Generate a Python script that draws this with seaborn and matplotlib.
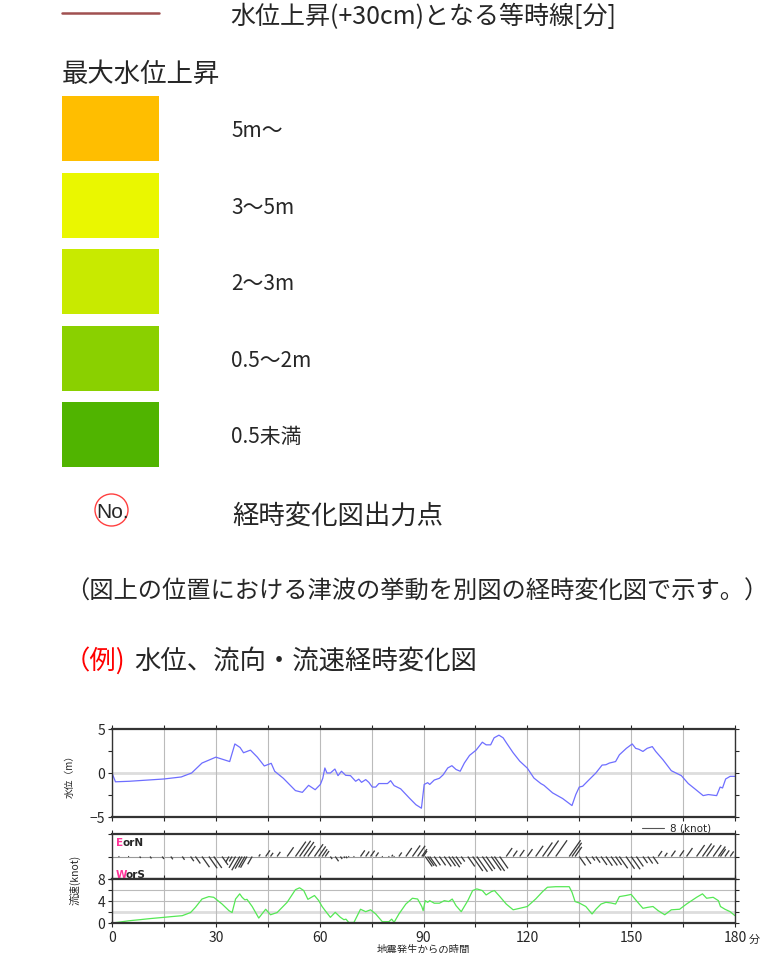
import numpy as np
import matplotlib
matplotlib.use("Agg")
import matplotlib.pyplot as plt
from matplotlib.patches import Rectangle, Ellipse
import seaborn as sns

# legend texts / colours
isochrone_label = "水位上昇(+30cm)となる等時線[分]"
max_title = "最大水位上昇"
max_labels = ["5m〜", "3〜5m", "2〜3m", "0.5〜2m", "0.5未満"]
max_colors = ["#FFBE00", "#EAF700", "#C8EA00", "#8AD000", "#50B400"]
point_label = "経時変化図出力点"
note_text = "（図上の位置における津波の挙動を別図の経時変化図で示す。）"
example_tag = "（例)"
example_title = "水位、流向・流速経時変化図"

# water level (m) vs minutes after the quake
level_t = [0, 1, 5, 15, 20, 23, 26, 30, 34, 35.5, 37, 38, 40, 42, 44, 46, 47, 49.5,
           53, 55, 56.8, 58.7, 60.2, 60.9, 61.5, 62.1, 63.1, 64.4, 65.3, 66.3, 67.5,
           68.9, 70.4, 71.3, 72.1, 73.3, 74.2, 75.2, 76.2, 77.1, 79.6, 80.5, 81.5,
           83.4, 85.8, 87.8, 89.4, 90.2, 91.2, 91.8, 93.1, 94.6, 95.7, 97, 98.2, 99.4,
           100.6, 101.8, 103.3, 105.2, 107, 108.1, 109.4, 110.4, 111.8, 113, 114,
           115.9, 117.8, 120, 121.9, 123.9, 124.8, 127.3, 130.2, 132.9, 134, 135, 136,
           137.4, 139.8, 141.6, 142.7, 143.7, 145.5, 146.6, 148.6, 150.3, 151.3, 152.2,
           153.4, 154.6, 156.1, 157.1, 159.2, 161.6, 164.5, 166.5, 168.4, 170.8, 172.3,
           174.7, 175.7, 176.4, 177.3, 178.6, 180]
level_m = [0, -1.0, -0.94, -0.68, -0.45, 0, 1.13, 1.8, 1.3, 3.3, 2.9, 2.3, 2.6, 1.8, 0.8,
           1.1, 0.2, -0.6, -2.0, -2.2, -1.4, -1.9, -1.3, -0.6, 0.57, 0, 0, 0.45, -0.3,
           0.2, -0.26, -0.3, -0.94, -0.7, -1.06, -0.75, -1.06, -1.6, -1.6, -1.2, -1.2,
           -0.87, -1.43, -1.8, -2.8, -3.6, -4.0, -1.3, -1.1, -1.3, -0.8, -0.6, -0.2,
           0.57, 0.83, 0.4, 0.2, 1.13, 2.0, 2.6, 3.5, 3.2, 3.2, 4.0, 4.3, 4.0, 3.4, 2.3,
           1.35, 0.55, -0.57, -1.2, -1.4, -2.26, -2.9, -3.7, -2.45, -1.6, -1.5, -0.94,
           0, 0.9, 0.94, 1.13, 1.3, 2.07, 2.8, 3.3, 2.8, 2.7, 2.45, 2.8, 3.0, 2.45, 1.5,
           0.26, -0.3, -1.2, -1.8, -2.57, -2.45, -2.57, -1.6, -1.7, -0.68, -0.38, -0.38]

# current speed (knot)
spd_t = [0, 2, 4.8, 8, 11, 14.5, 17, 20.3, 22.7, 24.1, 26, 28, 29.4, 31.8, 33.8, 34.7,
         35.7, 36.9, 37.6, 38.4, 39, 40.5, 42.4, 44.4, 45.8, 47.7, 50.6, 53, 54.2, 55.4,
         56.6, 58.5, 59.7, 60.7, 61.6, 63.1, 64.5, 66, 67, 67.6, 68.4, 69.9, 71.8, 73.3,
         74.7, 76.2, 78.1, 80, 80.8, 81.5, 82.9, 84.9, 86.8, 88.3, 89.5, 89.9, 90.5,
         91.2, 91.8, 93.1, 94.6, 96, 97.3, 98.3, 99.4, 100.9, 102.8, 104.2, 105.4, 107,
         108.1, 109.6, 110.5, 112, 113.9, 115.9, 117.8, 120, 122.4, 124.4, 125.8, 128.2,
         132.1, 132.9, 133.8, 135, 136.9, 138.7, 139.8, 141.3, 142.7, 144.2, 145.5,
         146.6, 148.5, 150, 151.5, 153.4, 154.8, 156.3, 157.8, 159.7, 161.6, 164, 166,
         168.9, 170.6, 171.8, 173.7, 175.2, 175.8, 177.1, 178.6, 180]
spd_kn = [0, 0.15, 0.4, 0.6, 0.8, 1.0, 1.15, 1.33, 1.9, 2.85, 4.36, 4.8, 4.67, 3.45,
          2.24, 1.9, 4.36, 5.3, 4.67, 4.2, 4.3, 3.0, 0.9, 2.5, 1.5, 1.9, 3.76, 6.06, 6.4,
          5.9, 4.3, 5.0, 4.1, 3.0, 2.24, 1.03, 1.94, 1.03, 0.6, 0.7, 0.1, 0.1, 2.5, 2.06,
          2.4, 1.64, 0.24, 0.24, 0.7, 0.12, 1.64, 3.45, 4.5, 4.36, 3.0, 2.24, 4.06, 3.76,
          4.06, 3.6, 3.6, 4.06, 3.9, 4.36, 3.15, 2.06, 4.06, 5.9, 6.2, 5.9, 5.1, 5.7, 5.9,
          4.85, 3.45, 2.4, 2.67, 3.0, 4.36, 5.7, 6.5, 6.6, 6.6, 5.6, 3.9, 3.64, 3.0, 1.64,
          2.5, 3.45, 3.76, 3.64, 3.45, 4.8, 5.0, 5.2, 4.06, 2.67, 2.85, 3.0, 2.24, 1.5,
          2.4, 2.5, 3.45, 4.67, 5.3, 4.5, 4.67, 4.06, 3.0, 2.5, 2.06, 1.33]

# flow direction phases (start minute, stick angle in degrees)
dir_start = [0, 33, 41, 62, 69, 90, 113, 135, 157]
dir_deg = [-55, -120, 55, -55, 55, -55, 55, -55, 55]

sns.set_style("ticks")
plt.rcParams["font.family"] = ["Noto Sans CJK JP", "DejaVu Sans"]

W, H = 767, 954
fig = plt.figure(figsize=(W / 100, H / 100), dpi=100)


def px_axes(x0, y0, x1, y1):
    return fig.add_axes([x0 / W, 1 - y1 / H, (x1 - x0) / W, (y1 - y0) / H])


bg = fig.add_axes([0, 0, 1, 1])
bg.set_xlim(0, W)
bg.set_ylim(H, 0)
bg.axis("off")

# legend block
bg.plot([62, 159], [14, 14], color="#A05050", lw=1.8)
bg.text(230, 17, isochrone_label, fontsize=18, va="center")
bg.text(62, 74, max_title, fontsize=19, va="center")
for i, (lab, col) in enumerate(zip(max_labels, max_colors)):
    top = 97 + i * 76.6
    bg.add_patch(Rectangle((62, top), 97, 65, color=col, lw=0))
    bg.text(231, top + 34, lab, fontsize=15, va="center")

bg.add_patch(Ellipse((111.5, 511), 33, 32, fill=False, ec="#FF4040", lw=1))
bg.text(113, 512, "No.", ha="center", va="center", fontsize=15, family="Liberation Sans")
bg.text(232, 516, point_label, fontsize=19, va="center")
bg.text(65, 592, note_text, fontsize=17.5, va="center")
bg.text(64, 661, example_tag, fontsize=19, va="center", color="red")
bg.text(134, 661, example_title, fontsize=19, va="center")

# time-series panels
ax1 = px_axes(112, 730, 735, 818)
ax2 = px_axes(112, 835, 735, 880)
ax3 = px_axes(112, 880, 735, 924)

xt = np.arange(0, 181, 15)
for ax in (ax1, ax2, ax3):
    ax.set_xlim(0, 180)
    ax.set_xticks(xt)
    ax.set_xticklabels([])
    ax.grid(axis="x", color="#BBBBBB", lw=0.8)
    ax.set_axisbelow(True)
    ax.tick_params(which="both", direction="out", length=3, width=0.8,
                   top=True, right=True, labelsize=10, pad=2)
    for s in ("top", "bottom"):
        ax.spines[s].set_linewidth(1.6)
        ax.spines[s].set_color("#333333")
    for s in ("left", "right"):
        ax.spines[s].set_linewidth(1.0)
        ax.spines[s].set_color("#333333")

ax1.axhline(0, color="#DDDDDD", lw=2, zorder=0)
sns.lineplot(x=level_t, y=level_m, ax=ax1, color="#6E6EFF", lw=0.9)
ax1.set_ylim(-5, 5)
ax1.set_yticks([-5, 0, 5])
ax1.set_yticks([-2.5, 2.5], minor=True)
ax1.set_xlabel("")
ax1.set_ylabel("水位（m）", fontsize=7)
ax1.yaxis.set_label_coords(-0.06, 0.5)

# stick plot of current vectors
ang = np.radians(np.array(dir_deg)[np.searchsorted(dir_start, spd_t, side="right") - 1])
u = np.array(spd_kn) * np.cos(ang)
v = np.array(spd_kn) * np.sin(ang)
ax2.axhline(0, color="#999999", lw=0.8, zorder=0)
ax2.quiver(spd_t, np.zeros(len(spd_t)), u, v, angles="uv", scale_units="dots",
           scale=8 / 24, units="dots", width=1.3, headwidth=0, headlength=0,
           headaxislength=0, pivot="tail", color="#3A3A3A")
ax2.set_ylim(-1, 1)
ax2.set_yticks([-1, 0, 1])
ax2.set_yticklabels([])
ax2.text(0.006, 0.82, "E", transform=ax2.transAxes, color="#FF3399", fontsize=7.5,
         weight="bold", va="center", family="DejaVu Sans")
ax2.annotate("orN", (0.006, 0.82), xycoords="axes fraction", xytext=(5.2, 0),
             textcoords="offset points", fontsize=7.5, weight="bold", va="center",
             family="DejaVu Sans")
ax2.text(0.006, 0.12, "W", transform=ax2.transAxes, color="#FF3399", fontsize=7.5,
         weight="bold", va="center", family="DejaVu Sans")
ax2.annotate("orS", (0.006, 0.12), xycoords="axes fraction", xytext=(7.2, 0),
             textcoords="offset points", fontsize=7.5, weight="bold", va="center",
             family="DejaVu Sans")

# scale key for the sticks
bg.plot([642, 664], [829, 829], color="#555555", lw=0.8)
bg.text(670, 829, "8 (knot)", fontsize=7.5, va="center", family="DejaVu Sans")

ax3.axhline(2, color="#DDDDDD", lw=2, zorder=0)
for yv in (4, 6):
    ax3.axhline(yv, color="#BBBBBB", lw=0.8, zorder=0)
sns.lineplot(x=spd_t, y=spd_kn, ax=ax3, color="#55E855", lw=0.9)
ax3.set_ylim(0, 8)
ax3.set_yticks([0, 4, 8])
ax3.set_yticks([2, 6], minor=True)
ax3.set_xticklabels([str(t) if t % 30 == 0 else "" for t in xt])
ax3.set_xlabel("")
ax3.set_ylabel("")

bg.text(75, 880, "流速(knot)", rotation=90, fontsize=7.5, ha="center", va="center")
bg.text(749, 940, "分", fontsize=8, va="center")
bg.text(423, 945, "地震発生からの時間", fontsize=7.5, ha="center", va="top")

fig.savefig("out.png", dpi=100)
